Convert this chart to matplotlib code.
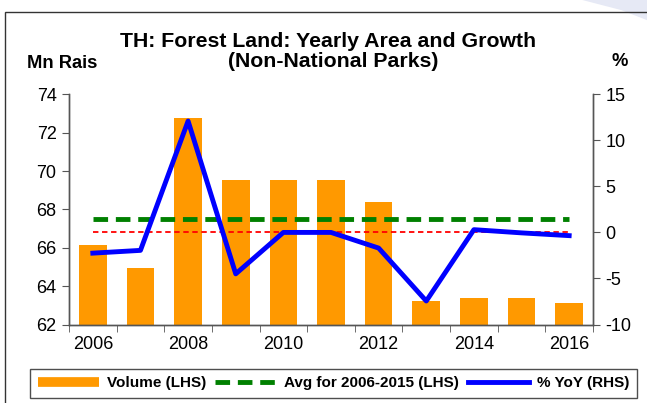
import numpy as np
import matplotlib.pyplot as plt
from matplotlib.lines import Line2D
from matplotlib.patches import Rectangle, Polygon

plt.rcParams['font.family'] = ['Liberation Sans', 'DejaVu Sans']
plt.rcParams['axes.unicode_minus'] = False

years = [2006, 2007, 2008, 2009, 2010, 2011, 2012, 2013, 2014, 2015, 2016]
volume = [66.15, 64.95, 72.78, 69.53, 69.53, 69.53, 68.38, 63.24, 63.40, 63.36, 63.14]
yoy = [-2.25, -1.95, 12.1, -4.5, 0.0, 0.0, -1.7, -7.45, 0.3, -0.05, -0.35]
avg_2006_2015 = 67.5
tick_years = [2006, 2008, 2010, 2012, 2014, 2016]

fig = plt.figure(figsize=(6.47, 4.03), dpi=100)

# light swoosh in the top right corner and the outer frame
fig.patches.append(Polygon([[0.90, 1.0], [1.0, 1.0], [1.0, 0.95], [0.96, 0.975]],
                           closed=True, transform=fig.transFigure,
                           facecolor='#e6e9f5', edgecolor='none', zorder=0))
fig.patches.append(Rectangle((4.5 / 647, -0.05), 1.2, 1.05 - 12 / 403,
                             transform=fig.transFigure, facecolor='none',
                             edgecolor='#333333', linewidth=1.0, zorder=1))

ax = fig.add_axes([69 / 647, 1 - 324.5 / 403, (593 - 69) / 647, (324.5 - 94.3) / 403])
x = np.arange(len(years))

ax.bar(x, volume, width=0.58, color='#FF9900', zorder=2)
ax.plot([x[0], x[-1]], [avg_2006_2015, avg_2006_2015], color='#008000',
        linewidth=3.5, dashes=(3, 1.6), zorder=3)

ax.set_xlim(-0.5, len(years) - 0.5)
ax.set_ylim(62, 74)
ax.set_yticks(np.arange(62, 75, 2))
ax.set_xticks([years.index(y) for y in tick_years])
ax.set_xticklabels([str(y) for y in tick_years])
ax.set_xticks(np.arange(-0.5, len(years)), minor=True)
ax.tick_params(axis='x', which='major', length=0, pad=8, labelsize=13)
ax.tick_params(axis='x', which='minor', length=5, direction='out', color='#555555')
ax.tick_params(axis='y', length=5, direction='out', labelsize=13, pad=4, color='#555555')

ax2 = ax.twinx()
ax2.set_ylim(-10, 15)
ax2.set_yticks(np.arange(-10, 16, 5))
ax2.tick_params(axis='y', length=5, direction='out', labelsize=13, pad=4, color='#555555')
ax2.plot([x[0], x[-1]], [0, 0], color='#FF0000', linewidth=1.3, dashes=(3, 2), zorder=3)
ax2.plot(x, yoy, color='#0000FF', linewidth=3.5, zorder=4)

for a in (ax, ax2):
    a.spines['top'].set_visible(False)
    for s in ('left', 'right', 'bottom'):
        a.spines[s].set_color('#555555')
        a.spines[s].set_linewidth(1.0)

fig.text(328 / 647, 1 - 41.5 / 403, 'TH: Forest Land: Yearly Area and Growth',
         ha='center', va='center', fontsize=15.3, fontweight='bold')
fig.text(333 / 647, 1 - 61.5 / 403, '(Non-National Parks)',
         ha='center', va='center', fontsize=15.3, fontweight='bold')
fig.text(27 / 647, 1 - 64 / 403, 'Mn Rais', ha='left', va='center',
         fontsize=13.2, fontweight='bold')
fig.text(620 / 647, 1 - 62 / 403, '%', ha='center', va='center',
         fontsize=13.2, fontweight='bold')

handles = [
    Line2D([], [], color='#FF9900', linewidth=7, solid_capstyle='butt'),
    Line2D([], [], color='#008000', linewidth=3.5, dashes=(3, 1.6)),
    Line2D([], [], color='#0000FF', linewidth=3.5),
]
labels = ['Volume (LHS)', 'Avg for 2006-2015 (LHS)', '% YoY (RHS)']
leg = fig.legend(handles, labels, loc='center', ncol=3,
                 bbox_to_anchor=(333.5 / 647, 1 - 383.5 / 403),
                 prop={'weight': 'bold', 'size': 11}, handlelength=4.0,
                 columnspacing=0.6, handletextpad=0.5, frameon=True,
                 fancybox=False, borderpad=0.5)
leg.get_frame().set_edgecolor('#222222')
leg.get_frame().set_linewidth(1.0)

fig.savefig('out.png', dpi=100)
